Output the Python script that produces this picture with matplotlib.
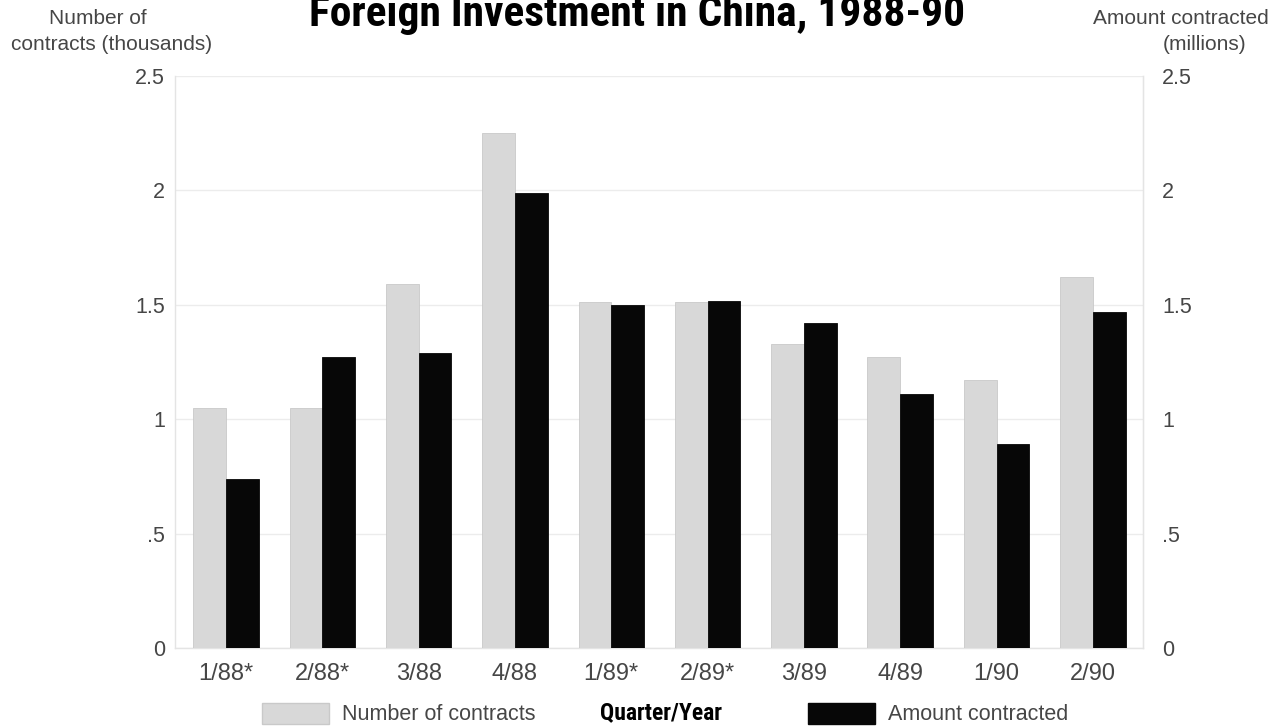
import numpy as np
import matplotlib.pyplot as plt
from matplotlib.patches import Patch
from matplotlib import font_manager as fm

quarters = ['1/88*', '2/88*', '3/88', '4/88', '1/89*', '2/89*', '3/89', '4/89', '1/90', '2/90']
contracts = [1.05, 1.05, 1.59, 2.25, 1.51, 1.51, 1.33, 1.27, 1.17, 1.62]      # thousands
amount = [0.74, 1.27, 1.29, 1.99, 1.50, 1.515, 1.42, 1.11, 0.89, 1.47]       # millions
yticks = [0, 0.5, 1, 1.5, 2, 2.5]
ytick_labels = ['0', '.5', '1', '1.5', '2', '2.5']

# pick a narrow bold face for the headings if one is installed
installed = {f.name for f in fm.fontManager.ttflist}
narrow_family = 'DejaVu Sans'
for cand in ['Roboto Condensed', 'Liberation Sans Narrow', 'DejaVu Sans Condensed',
             'Open Sans Condensed', 'Noto Sans Condensed']:
    if cand in installed:
        narrow_family = cand
        break

body = dict(family=['Liberation Sans', 'DejaVu Sans'], color='#464646')
narrow = dict(family=[narrow_family, 'DejaVu Sans'], fontweight='bold',
              fontstretch='condensed', color='black')

gray_c = '#d8d8d8'
black_c = '#070707'

fig = plt.figure(figsize=(12.77, 7.28), dpi=100)
ax = fig.add_axes([0.137, 0.110, 0.758, 0.7856])

x = np.arange(len(quarters))
w = 0.34
ax.bar(x - w / 2, contracts, w, color=gray_c, edgecolor='#c9c9c9', linewidth=0.6, zorder=3)
ax.bar(x + w / 2, amount, w, color=black_c, edgecolor=black_c, linewidth=0.6, zorder=3)

ax.set_xlim(-0.53, 9.52)
ax.set_ylim(0, 2.5)
ax.set_yticks(yticks)
ax.set_yticklabels(ytick_labels, fontsize=15.5, **body)
ax.set_xticks(x)
ax.set_xticklabels(quarters, fontsize=17, **body)
ax.tick_params(axis='both', length=0)
ax.tick_params(axis='y', pad=7)
ax.tick_params(axis='x', pad=11)
ax.grid(True, axis='y', color='#ececec', linewidth=1, zorder=0)
ax.spines['top'].set_visible(False)
for side in ['left', 'right', 'bottom']:
    ax.spines[side].set_color('#e4e4e4')
    ax.spines[side].set_linewidth(1)

# mirrored scale on the right for amount contracted
ax2 = ax.twinx()
ax2.set_ylim(ax.get_ylim())
ax2.set_yticks(yticks)
ax2.set_yticklabels(ytick_labels, fontsize=15.5, **body)
ax2.tick_params(axis='y', length=0, pad=14)
for side in ['top', 'left', 'bottom']:
    ax2.spines[side].set_visible(False)
ax2.spines['right'].set_color('#e4e4e4')

fig.text(637 / 1277, 1 - 26 / 728, 'Foreign Investment in China, 1988-90', ha='center',
         va='baseline', fontsize=31.3, **narrow)

fig.text(98 / 1277, 1 - 18 / 728, 'Number of', ha='center', va='center', fontsize=15, **body)
fig.text(112 / 1277, 1 - 45 / 728, 'contracts (thousands)', ha='center', va='center',
         fontsize=15, **body)
fig.text(1181 / 1277, 1 - 18 / 728, 'Amount contracted', ha='center', va='center',
         fontsize=15, **body)
fig.text(1205 / 1277, 1 - 45 / 728, '(millions)', ha='center', va='center', fontsize=15, **body)

fig.text(661 / 1277, 1 - 713 / 728, 'Quarter/Year', ha='center', va='center',
         fontsize=17, **narrow)

leg_kw = dict(frameon=False, handlelength=3.1, handleheight=1.15, handletextpad=0.6,
              borderpad=0, borderaxespad=0,
              prop=dict(family=['Liberation Sans', 'DejaVu Sans'], size=15.5))
l1 = fig.legend(handles=[Patch(facecolor=gray_c, edgecolor='#c9c9c9', label='Number of contracts')],
                loc='center left', bbox_to_anchor=(262 / 1277, 1 - 714 / 728), **leg_kw)
l2 = fig.legend(handles=[Patch(facecolor=black_c, edgecolor=black_c, label='Amount contracted')],
                loc='center left', bbox_to_anchor=(808 / 1277, 1 - 714 / 728), **leg_kw)
for leg in (l1, l2):
    for t in leg.get_texts():
        t.set_color('#464646')

fig.savefig('out.png', dpi=100)
